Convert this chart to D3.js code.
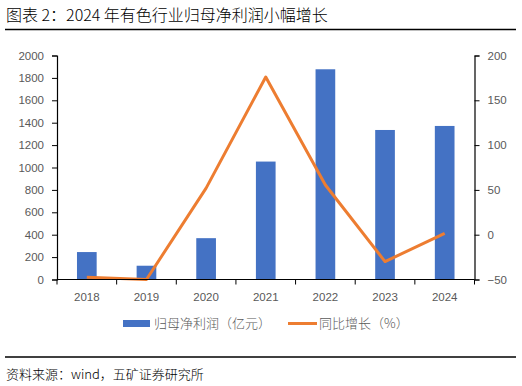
<!DOCTYPE html>
<html><head><meta charset="utf-8">
<script src="https://cdn.jsdelivr.net/npm/d3@7"></script>
<style>body{margin:0;background:#fff}svg{display:block}</style>
</head><body>
<svg id="c" width="522" height="386"></svg>
<script>
const categories = ["2018","2019","2020","2021","2022","2023","2024"];
const profit = [245, 123, 369, 1053, 1877, 1335, 1371];
const growth = [-47.5, -50, 52, 176, 55.5, -30, 1.5];
const leftTicks = [0,200,400,600,800,1000,1200,1400,1600,1800,2000];
const rightTicks = [-50,0,50,100,150,200];
const title = "图表 2：2024 年有色行业归母净利润小幅增长";
const source = "资料来源：wind，五矿证券研究所";
const legendLabels = ["归母净利润（亿元）","同比增长（%）"];

const svg = d3.select("#c");
const L = 57, R = 474.5, T = 55.5, B = 279.5;
const cjk = "'Noto Sans CJK SC','Liberation Sans',sans-serif";
const num = "'Liberation Sans','DejaVu Sans',sans-serif";

svg.append("text").attr("x",6).attr("y",21).attr("font-family",cjk).attr("font-size",16).attr("font-weight",300).attr("fill","#000").text(title);
svg.append("line").attr("x1",5).attr("x2",516).attr("y1",29.5).attr("y2",29.5).attr("stroke","#000").attr("stroke-width",1.5);
svg.append("line").attr("x1",5).attr("x2",516).attr("y1",357).attr("y2",357).attr("stroke","#000").attr("stroke-width",1.5);
svg.append("text").attr("x",6).attr("y",379).attr("font-family",cjk).attr("font-size",13).attr("font-weight",300).attr("fill","#000").text(source);

const x = d3.scaleBand().domain(categories).range([L,R]).paddingInner(0.67).paddingOuter(0.335);
const xb = d3.scaleBand().domain(categories).range([L,R]);
const yL = d3.scaleLinear().domain([0,2000]).range([B,T]);
const yR = d3.scaleLinear().domain([-50,200]).range([B,T]);

svg.selectAll("rect.bar").data(profit).join("rect").attr("class","bar")
  .attr("x",(d,i)=>x(categories[i])).attr("width",x.bandwidth())
  .attr("y",d=>yL(d)).attr("height",d=>B-yL(d)).attr("fill","#4472C4");

const line = d3.line().x((d,i)=>xb(categories[i])+xb.bandwidth()/2).y(d=>yR(d));
svg.append("path").datum(growth).attr("d",line).attr("fill","none").attr("stroke","#ED7D31").attr("stroke-width",3).attr("stroke-linejoin","round");

function style(g){
  g.selectAll("path.domain").attr("stroke","#000").attr("stroke-width",1.2);
  g.selectAll(".tick line").attr("stroke","#000");
  g.selectAll("text").attr("fill","#595959").attr("font-family",num).attr("font-size",11.5);
}
const fmt = d3.format("d");
svg.append("g").attr("transform",`translate(${L},0)`).call(d3.axisLeft(yL).tickValues(leftTicks).tickFormat(fmt).tickSize(5).tickSizeOuter(5).tickPadding(8)).call(style);
svg.append("g").attr("transform",`translate(${R},0)`).call(d3.axisRight(yR).tickValues(rightTicks).tickFormat(fmt).tickSize(5).tickSizeOuter(5).tickPadding(8)).call(style);
const gX = svg.append("g").attr("transform",`translate(0,${B})`);
gX.append("line").attr("x1",L).attr("x2",R).attr("stroke","#000").attr("stroke-width",1.2);
const bounds = categories.map(c=>xb(c)).concat([R]);
gX.selectAll("line.t").data(bounds).join("line").attr("class","t").attr("x1",d=>d).attr("x2",d=>d).attr("y1",0).attr("y2",5).attr("stroke","#000");
gX.selectAll("text").data(categories).join("text").attr("x",d=>xb(d)+xb.bandwidth()/2).attr("y",21)
  .attr("text-anchor","middle").attr("fill","#595959").attr("font-family",num).attr("font-size",11.5).text(d=>d);

const lg = svg.append("g");
lg.append("rect").attr("x",123).attr("y",320).attr("width",27).attr("height",7).attr("fill","#4472C4");
lg.append("text").attr("x",154).attr("y",328).attr("font-family",cjk).attr("font-size",13).attr("font-weight",300).attr("fill","#595959").text(legendLabels[0]);
lg.append("line").attr("x1",288).attr("x2",317).attr("y1",323.5).attr("y2",323.5).attr("stroke","#ED7D31").attr("stroke-width",3);
lg.append("text").attr("x",319).attr("y",328).attr("font-family",cjk).attr("font-size",13).attr("font-weight",300).attr("fill","#595959").text(legendLabels[1]);
</script>
</body></html>
